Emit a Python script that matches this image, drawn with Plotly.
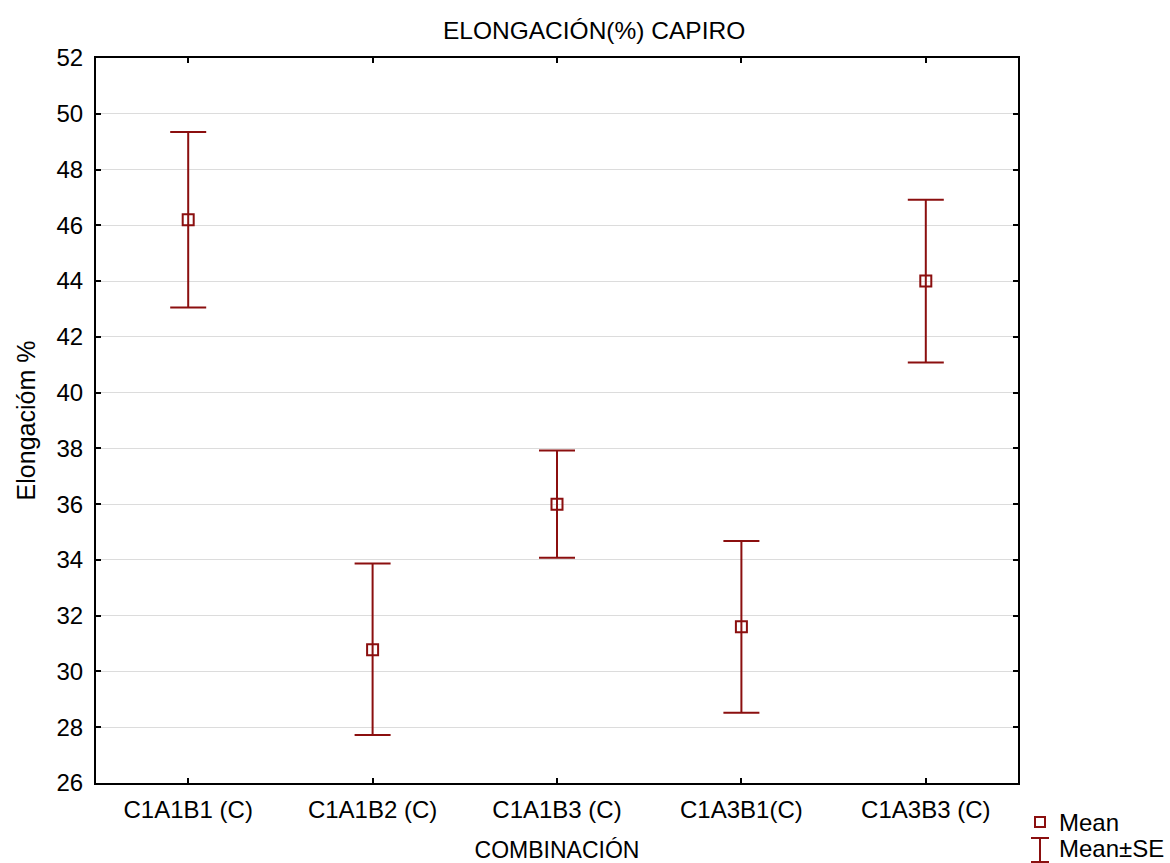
import plotly.graph_objects as go

categories = ["C1A1B1 (C)", "C1A1B2 (C)", "C1A1B3 (C)", "C1A3B1(C)", "C1A3B3 (C)"]
means = [46.2, 30.78, 36.0, 31.6, 44.0]
upper = [49.35, 33.87, 37.92, 34.68, 46.92]
lower = [43.05, 27.72, 34.08, 28.52, 41.08]
y_ticks = list(range(26, 53, 2))

err_plus = [u - m for u, m in zip(upper, means)]
err_minus = [m - l for m, l in zip(means, lower)]

RED = "#8B0F0F"
FONT = "Liberation Sans, Arial, sans-serif"

fig = go.Figure()
fig.add_trace(go.Scatter(
    x=list(range(len(categories))), y=means, mode="markers",
    marker=dict(symbol="square-open", size=11, color=RED, line=dict(width=2, color=RED)),
    error_y=dict(type="data", symmetric=False, array=err_plus, arrayminus=err_minus,
                 color=RED, thickness=2, width=18),
    showlegend=False,
))

W, H = 1170, 863
L, R, T, B = 96, 152, 58, 80
pw, ph = W - L - R, H - T - B

def px(x):
    return (x - L) / pw

def py(y):
    return (H - B - y) / ph

fig.update_layout(
    width=W, height=H,
    margin=dict(l=L, r=R, t=T, b=B),
    paper_bgcolor="white", plot_bgcolor="white",
    font=dict(family=FONT, size=24, color="black"),
    showlegend=False,
)
fig.update_xaxes(
    range=[-0.5, len(categories) - 0.5], automargin=False,
    tickmode="array", tickvals=list(range(len(categories))), ticktext=categories,
    ticks="inside", ticklen=5, tickwidth=2, tickcolor="black",
    showline=True, linewidth=2, linecolor="black", mirror="allticks",
    showgrid=False, zeroline=False,
    tickfont=dict(size=24), ticklabelstandoff=4,
    title=dict(text="COMBINACIÓN", font=dict(size=23), standoff=23),
)
fig.update_yaxes(
    range=[26, 52], automargin=False,
    tickmode="array", tickvals=y_ticks, ticktext=[str(v) for v in y_ticks],
    ticks="inside", ticklen=5, tickwidth=2, tickcolor="black",
    showline=True, linewidth=2, linecolor="black", mirror="allticks",
    showgrid=True, gridcolor="#dcdcdc", gridwidth=1, zeroline=False,
    tickfont=dict(size=24), ticklabelstandoff=6,
    title=dict(text="Elongacióm %", font=dict(size=25), standoff=14),
)

fig.add_annotation(text="ELONGACIÓN(%) CAPIRO", xref="paper", yref="paper",
                   x=px(594), y=py(30), xanchor="center", yanchor="middle",
                   showarrow=False, font=dict(size=24.5))

# legend (drawn manually)
fig.add_shape(type="rect", xref="paper", yref="paper", xsizemode="pixel", ysizemode="pixel",
              xanchor=px(1040), yanchor=py(822), x0=-5, x1=5, y0=-5, y1=5,
              line=dict(color=RED, width=2))
fig.add_shape(type="line", xref="paper", yref="paper", x0=px(1040), x1=px(1040),
              y0=py(838), y1=py(862), line=dict(color=RED, width=2))
fig.add_shape(type="line", xref="paper", yref="paper", x0=px(1031), x1=px(1049),
              y0=py(838), y1=py(838), line=dict(color=RED, width=2))
fig.add_shape(type="line", xref="paper", yref="paper", x0=px(1031), x1=px(1049),
              y0=py(862), y1=py(862), line=dict(color=RED, width=2))
fig.add_annotation(text="Mean", xref="paper", yref="paper", x=px(1057), y=py(822),
                   xanchor="left", yanchor="middle", showarrow=False, font=dict(size=24))
fig.add_annotation(text="Mean±SE", xref="paper", yref="paper", x=px(1057), y=py(848),
                   xanchor="left", yanchor="middle", showarrow=False, font=dict(size=24))

fig.write_html("out.html")
